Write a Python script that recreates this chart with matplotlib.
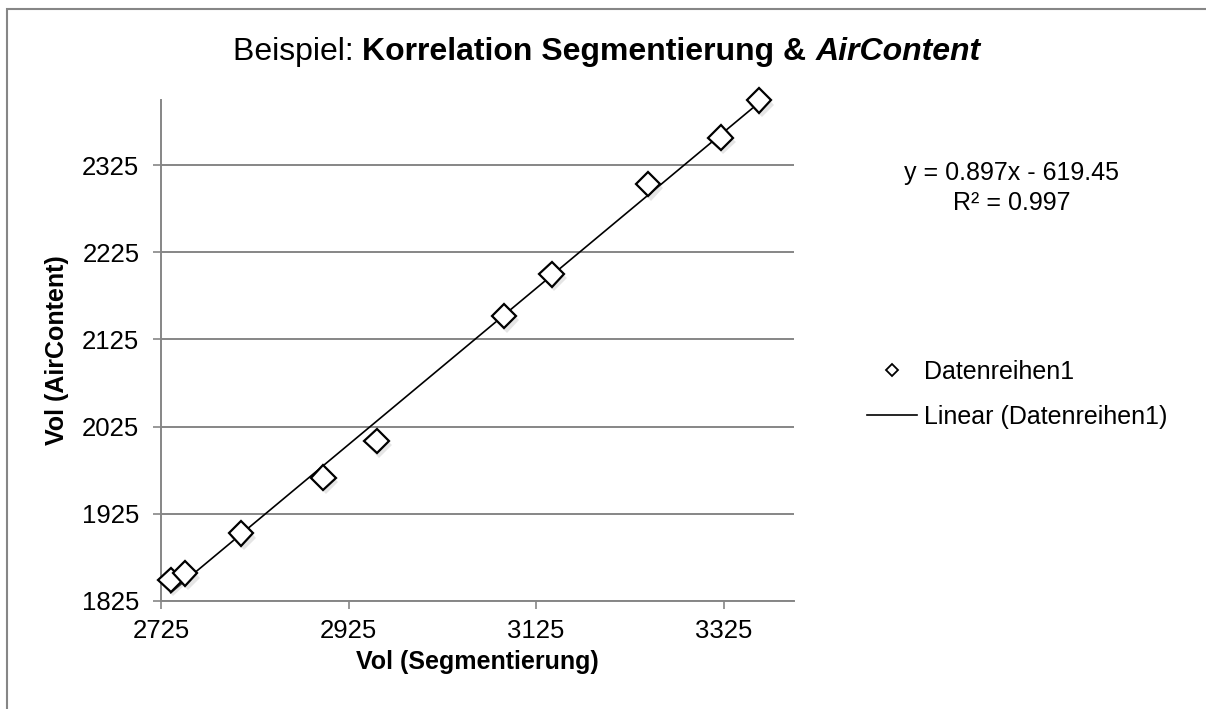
import matplotlib
matplotlib.use("Agg")
import matplotlib.pyplot as plt
import matplotlib.patheffects as pe
from matplotlib.lines import Line2D
from matplotlib.patches import Rectangle
import numpy as np

# values
vol_seg = [2735.3, 2750.6, 2810.3, 2898.0, 2955.0, 3090.7, 3141.5, 3244.5, 3321.7, 3362.5]
vol_air = [1848.8, 1856.4, 1902.3, 1966.2, 2008.3, 2151.7, 2199.9, 2303.3, 2356.8, 2399.6]
slope, intercept, r2 = 0.897, -619.45, 0.997
x_ticks = [2725, 2925, 3125, 3325]
y_ticks = [1825, 1925, 2025, 2125, 2225, 2325]
x_range = (2725, 3400)
y_range = (1825, 2400)

plt.rcParams['font.family'] = ['Liberation Sans', 'DejaVu Sans']
W, H = 1206, 709
grey = '#868686'

fig = plt.figure(figsize=(W / 100, H / 100), dpi=100)
fig.patch.set_facecolor('white')

# outer chart frame (only left/top visible in the reference)
fig.add_artist(Rectangle((7 / W, -0.1), 1.5, 1 - 9 / H + 0.1, transform=fig.transFigure,
                         fill=False, edgecolor=grey, lw=1.5))

ax = fig.add_axes([161 / W, 1 - 600.7 / H, (794 - 161) / W, (600.7 - 100) / H])
ax.set_xlim(*x_range)
ax.set_ylim(*y_range)
ax.set_xticks(x_ticks)
ax.set_yticks(y_ticks)
for s in ['top', 'right']:
    ax.spines[s].set_visible(False)
for s in ['left', 'bottom']:
    ax.spines[s].set_color(grey)
    ax.spines[s].set_linewidth(1.4)
ax.tick_params(axis='both', direction='out', length=5.5, width=1.2, color=grey,
               labelsize=18.5, labelcolor='black')
ax.tick_params(axis='y', pad=10)
ax.tick_params(axis='x', pad=8)
ax.yaxis.grid(True, color=grey, lw=1.4)
ax.set_axisbelow(True)

# trendline over data range
xl = np.array([min(vol_seg), max(vol_seg)])
ax.plot(xl, slope * xl + intercept, color='black', lw=1.2, zorder=3)

shadow = [pe.SimplePatchShadow(offset=(2, -3), shadow_rgbFace='#aaaaaa', alpha=0.3), pe.Normal()]
ax.plot(vol_seg, vol_air, linestyle='none', marker='D', markersize=12.5,
        markerfacecolor='white', markeredgecolor='black', markeredgewidth=1.6,
        zorder=4, path_effects=shadow, clip_on=False)

# axis titles
fig.text(57 / W, 1 - 350 / H, 'Vol (AirContent)', rotation=90, ha='center', va='center',
         fontsize=18, fontweight='bold')
fig.text(477.5 / W, 1 - 662 / H, 'Vol (Segmentierung)', ha='center', va='center',
         fontsize=18, fontweight='bold')

# title in three styles
fig.canvas.draw()
r = fig.canvas.get_renderer()
x0 = 233
parts = [('Beispiel: ', 'normal', 'normal'),
         ('Korrelation Segmentierung & ', 'bold', 'normal'),
         ('AirContent', 'bold', 'italic')]
for txt, wgt, sty in parts:
    t = fig.text(x0 / W, 1 - 60 / H, txt, fontsize=23, fontweight=wgt, fontstyle=sty,
                 ha='left', va='baseline')
    bb = t.get_window_extent(renderer=r)
    x0 += bb.width

# trendline equation
fig.text(1012 / W, 1 - 188 / H, f'y = {slope}x - {abs(intercept)}\nR² = {r2}',
         ha='center', va='center', fontsize=18, linespacing=1.3)

# legend
handles = [Line2D([], [], linestyle='none', marker='D', markersize=6.5,
                  markerfacecolor='white', markeredgecolor='black', markeredgewidth=1.3),
           Line2D([], [], color='black', lw=1.2)]
fig.legend(handles, ['Datenreihen1', 'Linear (Datenreihen1)'], loc='center left',
           bbox_to_anchor=(867 / W, 1 - 394.5 / H), frameon=False, fontsize=18,
           borderpad=0, borderaxespad=0, handlelength=2.0, handletextpad=0.3,
           labelspacing=0.83)

fig.savefig('out.png', dpi=100)
